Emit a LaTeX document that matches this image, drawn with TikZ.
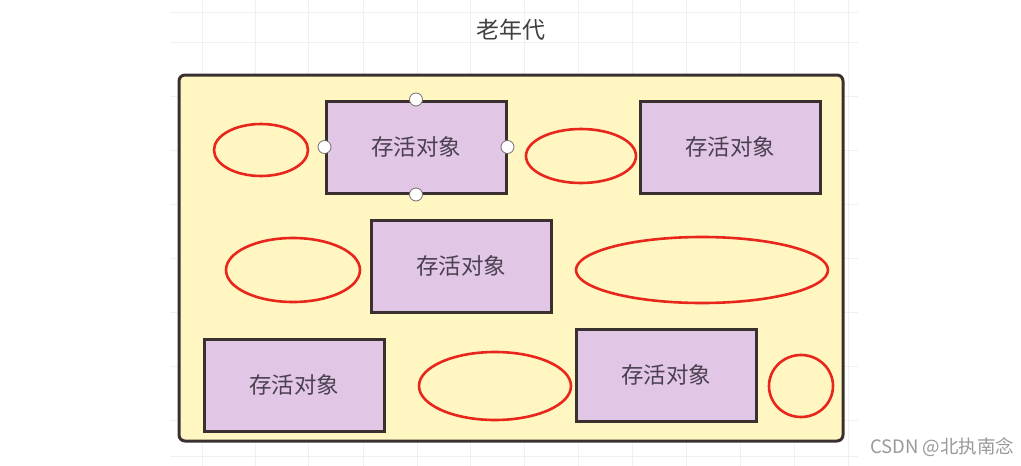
\documentclass[tikz,border=0pt]{standalone}
\usepackage{fontspec}
\newfontfamily\cjk{Noto Sans CJK SC}
\usetikzlibrary{shapes.geometric}
\definecolor{yel}{HTML}{FFF6C2}
\definecolor{pur}{HTML}{E2C6E6}
\definecolor{edge}{HTML}{3A3030}
\definecolor{ell}{HTML}{E8261C}
\definecolor{txt}{HTML}{4A4050}
\tikzset{
  obj/.style={draw=edge, line width=3pt, fill=pur, minimum width=180pt, minimum height=92pt, inner sep=0pt, font=\cjk\fontsize{22.5}{22.5}\selectfont, text=txt},
  garbage/.style={draw=ell, line width=2.6pt, ellipse, inner sep=0pt},
  handle/.style={circle, draw=edge!70, fill=white, line width=0.8pt, minimum size=13pt, inner sep=0pt},
  gridline/.style={draw=black!6, line width=0.8pt}
}
\begin{document}
\begin{tikzpicture}[x=1pt,y=-1pt]
\useasboundingbox (0,0) rectangle (1021,466);
\fill[white] (0,0) rectangle (1021,466);
% faint background grid
\foreach \x in {202,255,308,363,417,470,524,578,632,686,740,794,848}
  \draw[gridline] (\x,0) -- (\x,466);
\foreach \y in {12,42,96,150,204,258,312,366,420,456}
  \draw[gridline] (170,\y) -- (858,\y);
\node[font=\cjk\fontsize{23}{23}\selectfont, text=black!75] (title) at (511,30) {老年代};
\draw[edge, line width=3pt, fill=yel, rounded corners=6pt] (179,75) rectangle (843,441);
\node[garbage, minimum width=94pt, minimum height=52pt] (e1) at (261,150) {};
\node[garbage, minimum width=110pt, minimum height=54pt] (e2) at (581,156) {};
\node[garbage, minimum width=134pt, minimum height=64pt] (e3) at (293,270) {};
\node[garbage, minimum width=252pt, minimum height=66pt] (e4) at (702,270) {};
\node[garbage, minimum width=152pt, minimum height=68pt] (e5) at (495,386) {};
\node[garbage, minimum width=64pt, minimum height=62pt] (e6) at (801,386) {};
\node[obj] (b1) at (416,147) {存活对象};
\node[obj] (b2) at (730,147) {存活对象};
\node[obj] (b3) at (461,266) {存活对象};
\node[obj] (b4) at (294,385) {存活对象};
\node[obj] (b5) at (666,375) {存活对象};
\node[handle] (h1) at (b1.north) {};
\node[handle] (h2) at (b1.south) {};
\node[handle] (h3) at (b1.west) {};
\node[handle] (h4) at (b1.east) {};
\node[font=\cjk\fontsize{18.5}{18.5}\selectfont, text=black!40, anchor=east] (wm) at (1018,447) {CSDN @北执南念};
\end{tikzpicture}
\end{document}
